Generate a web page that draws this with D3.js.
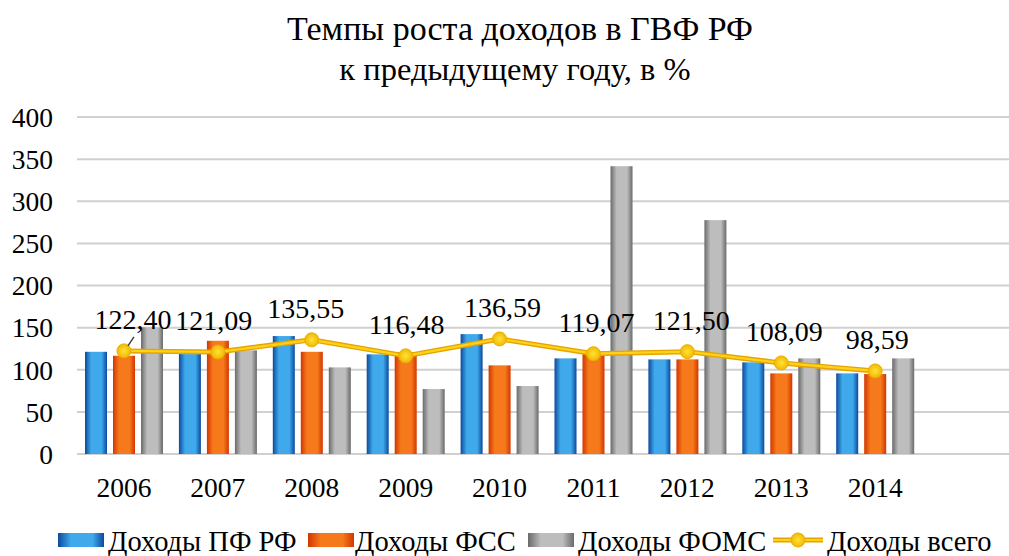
<!DOCTYPE html>
<html><head><meta charset="utf-8">
<script src="https://cdn.jsdelivr.net/npm/d3@7"></script>
<style>
html,body{margin:0;padding:0;background:#fff;}
</style></head>
<body><svg id="c" width="1009" height="556"></svg>
<script>
const years = ["2006","2007","2008","2009","2010","2011","2012","2013","2014"];
const pfValues   = [121.3, 118.6, 140.0, 118.3, 142.3, 113.5, 112.3, 108.8, 95.7];
const fssValues  = [116.6, 134.4, 121.3, 120.6, 105.2, 118.6, 112.3, 95.7, 94.9];
const fomsValues = [150.3, 123.0, 102.8, 77.1, 80.7, 341.6, 277.6, 113.5, 113.5];
const totalValues = [122.40, 121.09, 135.55, 116.48, 136.59, 119.07, 121.50, 108.09, 98.59];
const totalLabels = ["122,40","121,09","135,55","116,48","136,59","119,07","121,50","108,09","98,59"];
const yTicks = [0, 50, 100, 150, 200, 250, 300, 350, 400];
const seriesNames = ["Доходы ПФ РФ","Доходы ФСС","Доходы ФОМС","Доходы всего"];
const titleLines = ["Темпы роста доходов в ГВФ РФ","к предыдущему году, в %"];

const FONT = "Liberation Serif, Times New Roman, serif";
const svg = d3.select("#c").attr("font-family", FONT);
const defs = svg.append("defs");
function hGrad(id, dark, light){
  const g = defs.append("linearGradient").attr("id", id).attr("x1","0").attr("x2","1").attr("y1","0").attr("y2","0");
  g.append("stop").attr("offset","0%").attr("stop-color", dark);
  g.append("stop").attr("offset","28%").attr("stop-color", light);
  g.append("stop").attr("offset","75%").attr("stop-color", light);
  g.append("stop").attr("offset","100%").attr("stop-color", dark);
}
hGrad("gBlue", "#0b4a9e", "#3fa9ec");
hGrad("gOrange", "#d33600", "#f67a1b");
hGrad("gGray", "#6a6a6a", "#bdbdbd");
const rg = defs.append("radialGradient").attr("id","gDot");
rg.append("stop").attr("offset","0%").attr("stop-color","#ffe23a");
rg.append("stop").attr("offset","100%").attr("stop-color","#f2b800");

const plotLeft = 77, step = 93.9;
const x = d3.scaleBand().domain(years).range([plotLeft, plotLeft + step*years.length]);
const y = d3.scaleLinear().domain([0, 400]).range([454, 117]);
const series = [
  {key:"pf", vals: pfValues, fill:"url(#gBlue)"},
  {key:"fss", vals: fssValues, fill:"url(#gOrange)"},
  {key:"foms", vals: fomsValues, fill:"url(#gGray)"}
];
const xs = d3.scaleBand().domain(series.map(s=>s.key)).range([8, 86]).paddingInner(6/28);

// title
const titleX = [520, 515], titleY = [40, 80], titleSize = [34, 32.5];
svg.append("g").selectAll("text").data(titleLines).join("text")
  .attr("x", (d,i)=>titleX[i]).attr("y", (d,i)=> titleY[i])
  .attr("text-anchor","middle").attr("font-size", (d,i)=>titleSize[i]).attr("font-family", FONT).attr("fill","#000")
  .text(d=>d);

// grid
svg.append("g").selectAll("line").data(yTicks).join("line")
  .attr("x1", plotLeft).attr("x2", 1009).attr("y1", d=>y(d)).attr("y2", d=>y(d))
  .attr("stroke", "#d0d0d0").attr("stroke-width", 2);

const yAxis = d3.axisLeft(y).tickValues(yTicks).tickSize(0).tickPadding(0).tickFormat(d3.format("d"));
const gy = svg.append("g").attr("transform", `translate(53,0)`).call(yAxis);
gy.attr("font-family", FONT);
gy.select(".domain").remove();
gy.selectAll("text").attr("font-size", 27.5).attr("font-family", FONT).attr("fill","#000").attr("dy","0.34em");

// bars
series.forEach(s=>{
  svg.append("g").selectAll("rect").data(s.vals).join("rect")
    .attr("x", (d,i)=> x(years[i]) + xs(s.key))
    .attr("width", xs.bandwidth())
    .attr("y", d=>y(d)).attr("height", d=> y(0)-y(d))
    .attr("fill", s.fill);
});

// x axis labels
const xAxis = d3.axisBottom(x).tickSize(0).tickPadding(0);
const gx = svg.append("g").attr("transform", `translate(0,${y(0)})`).call(xAxis);
gx.attr("font-family", FONT);
gx.select(".domain").remove();
gx.selectAll("text").attr("font-size", 27.5).attr("font-family", FONT).attr("fill","#000").attr("dy", null).attr("y", 43);

// line
const line = d3.line().x((d,i)=> x(years[i]) + x.bandwidth()/2).y(d=>y(d));
svg.append("path").datum(totalValues).attr("d", line).attr("fill","none").attr("stroke","#e6a400").attr("stroke-width",5).attr("stroke-linejoin","round");
svg.append("path").datum(totalValues).attr("d", line).attr("fill","none").attr("stroke","#ffd21a").attr("stroke-width",2.2).attr("stroke-linejoin","round");
svg.append("g").selectAll("circle").data(totalValues).join("circle")
  .attr("cx",(d,i)=> x(years[i]) + x.bandwidth()/2).attr("cy", d=>y(d)).attr("r", 7)
  .attr("fill","url(#gDot)").attr("stroke","#e8b000").attr("stroke-width",1);

// leader for first label
const lx0 = x(years[0]) + x.bandwidth()/2, ly0 = y(totalValues[0]);
svg.append("line").attr("x1", lx0+4).attr("y1", ly0-5).attr("x2", lx0+10).attr("y2", ly0-14).attr("stroke","#404040").attr("stroke-width",1.5);

const labelDx = [9,-4,-6,1,3,3,4,3,2];
svg.append("g").selectAll("text").data(totalValues).join("text")
  .attr("x", (d,i)=> x(years[i]) + x.bandwidth()/2 + labelDx[i])
  .attr("y", (d,i)=> y(d) - 22)
  .attr("text-anchor","middle").attr("font-size",28).attr("font-family", FONT).attr("fill","#000")
  .text((d,i)=>totalLabels[i]);

// legend
const leg = svg.append("g");
const legItems = [
  {x:58, tx:108, type:"rect", fill:"url(#gBlue)"},
  {x:308, tx:355, type:"rect", fill:"url(#gOrange)"},
  {x:528, tx:578, type:"rect", fill:"url(#gGray)"},
  {x:773, tx:827, type:"line"}
];
legItems.forEach((it,i)=>{
  if(it.type==="rect"){
    leg.append("rect").attr("x", it.x).attr("y", 533).attr("width", 46).attr("height", 14).attr("fill", it.fill);
  } else {
    leg.append("line").attr("x1", it.x).attr("x2", it.x+50).attr("y1", 540).attr("y2", 540).attr("stroke","#e6a400").attr("stroke-width",5);
    leg.append("line").attr("x1", it.x).attr("x2", it.x+50).attr("y1", 540).attr("y2", 540).attr("stroke","#ffd21a").attr("stroke-width",2);
    leg.append("circle").attr("cx", it.x+25).attr("cy", 540).attr("r", 7).attr("fill","url(#gDot)").attr("stroke","#e8b000");
  }
  leg.append("text").attr("x", it.tx).attr("y", 551).attr("font-size", 28.5).attr("font-family", FONT).attr("fill","#000").text(seriesNames[i]);
});
</script></body></html>
